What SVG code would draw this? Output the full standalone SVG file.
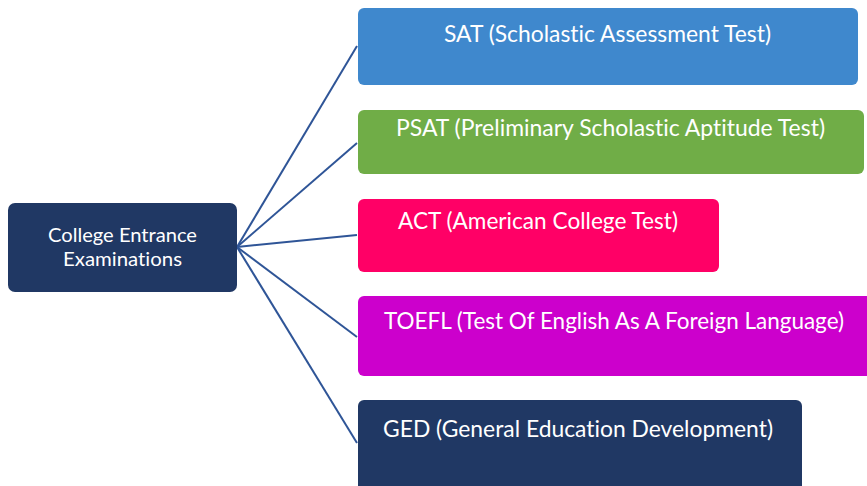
<svg xmlns="http://www.w3.org/2000/svg" width="867" height="486" viewBox="0 0 867 486">
<style>
text{font-family:Lato,"Open Sans","Liberation Sans",sans-serif;fill:#ffffff;text-anchor:middle;font-variant-ligatures:none;font-feature-settings:"liga" 0,"dlig" 0}
.b{font-size:23px}
.c{font-size:19px}
.e{stroke:#2F5597;stroke-width:2;fill:none}
</style>
<rect width="867" height="486" fill="#ffffff"/>
<g id="connectors">
<line class="e" x1="237" y1="247" x2="357" y2="46"/>
<line class="e" x1="237" y1="247" x2="357" y2="143"/>
<line class="e" x1="237" y1="247" x2="357" y2="235"/>
<line class="e" x1="237" y1="247" x2="357" y2="337"/>
<line class="e" x1="237" y1="247" x2="357" y2="443"/>
</g>
<g id="root">
<rect x="8" y="203" width="229" height="89" rx="7" fill="#203864"/>
<text class="c" x="122.5" y="242" textLength="149" lengthAdjust="spacingAndGlyphs">College Entrance</text>
<text class="c" x="122.5" y="266" textLength="119" lengthAdjust="spacingAndGlyphs">Examinations</text>
</g>
<g id="sat">
<rect x="358" y="8" width="500" height="77" rx="6" fill="#3F88CD"/>
<text class="b" x="607.5" y="42" textLength="327" lengthAdjust="spacingAndGlyphs">SAT (Scholastic Assessment Test)</text>
</g>
<g id="psat">
<rect x="358" y="110" width="506" height="64" rx="6" fill="#70AD47"/>
<text class="b" x="610.5" y="136" textLength="429" lengthAdjust="spacingAndGlyphs">PSAT (Preliminary Scholastic Aptitude Test)</text>
</g>
<g id="act">
<rect x="358" y="199" width="361" height="73" rx="6" fill="#FF0066"/>
<text class="b" x="538" y="229" textLength="280" lengthAdjust="spacingAndGlyphs">ACT (American College Test)</text>
</g>
<g id="toefl">
<rect x="358" y="296" width="520" height="80" rx="6" fill="#CC00CC"/>
<text class="b" x="614" y="329" textLength="460" lengthAdjust="spacingAndGlyphs">TOEFL (Test Of English As A Foreign Language)</text>
</g>
<g id="ged">
<rect x="358" y="400" width="444" height="100" rx="6" fill="#203864"/>
<text class="b" x="578" y="437" textLength="390" lengthAdjust="spacingAndGlyphs">GED (General Education Development)</text>
</g>
</svg>
